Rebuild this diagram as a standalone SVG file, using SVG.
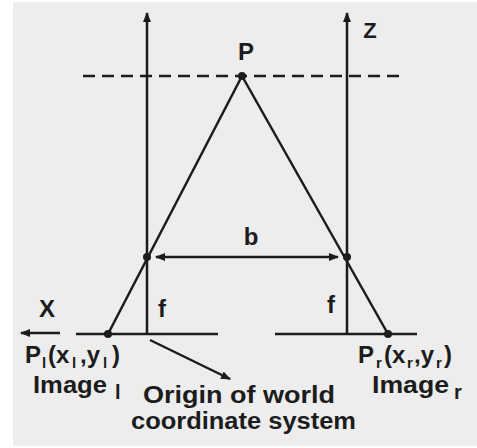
<svg xmlns="http://www.w3.org/2000/svg" width="477" height="448" viewBox="0 0 477 448">
<defs>
<style>
.ln{stroke:#1c1c1c;stroke-width:2.5;fill:none}
.t{font-family:"Liberation Sans",Arial,sans-serif;font-weight:bold;fill:#1c1c1c}
.m{font-size:24px}
.s{font-size:15px}
.o{font-size:23px}
</style>
<marker id="ah" viewBox="0 0 10 10" refX="9" refY="5" markerWidth="4" markerHeight="4" orient="auto-start-reverse" markerUnits="strokeWidth">
<path d="M0,1 L10,5 L0,9 Z" fill="#1c1c1c"/>
</marker>
</defs>
<rect x="0" y="0" width="477" height="448" fill="#ffffff"/>
<rect x="13" y="2" width="464" height="444" fill="#ededed"/>
<g id="connectors">
<line class="ln" x1="83" y1="76" x2="405" y2="76" stroke-dasharray="12,7" stroke-width="3"/>
<line class="ln" x1="147" y1="334" x2="147" y2="13" marker-end="url(#ah)"/>
<line class="ln" x1="347" y1="334" x2="347" y2="13" marker-end="url(#ah)"/>
<line class="ln" x1="242" y1="76" x2="108" y2="334"/>
<line class="ln" x1="242" y1="76" x2="388" y2="334"/>
<line class="ln" x1="156" y1="257" x2="338" y2="257" marker-start="url(#ah)" marker-end="url(#ah)"/>
<line class="ln" x1="76" y1="334" x2="218" y2="334"/>
<line class="ln" x1="275" y1="334" x2="417" y2="334"/>
<line class="ln" x1="60" y1="333" x2="21" y2="333" marker-end="url(#ah)"/>
<line class="ln" x1="150" y1="340" x2="230" y2="379" stroke-width="2" marker-end="url(#ah)"/>
</g>
<g id="P">
<circle cx="242" cy="76" r="4" fill="#1c1c1c"/>
<text class="t m" x="246" y="60" text-anchor="middle">P</text>
</g>
<g id="Z"><text class="t" style="font-size:22px" x="370" y="38" text-anchor="middle">Z</text></g>
<g id="X"><text class="t m" x="47" y="317" text-anchor="middle">X</text></g>
<g id="b"><text class="t m" x="251" y="245" text-anchor="middle">b</text></g>
<g id="dots">
<circle cx="147" cy="257" r="4" fill="#1c1c1c"/>
<circle cx="347" cy="257" r="4" fill="#1c1c1c"/>
<circle cx="108" cy="334" r="4" fill="#1c1c1c"/>
<circle cx="388" cy="334" r="4" fill="#1c1c1c"/>
</g>
<g id="f-left"><text class="t m" x="162" y="317" text-anchor="middle">f</text></g>
<g id="f-right"><text class="t m" x="331" y="313" text-anchor="middle">f</text></g>
<g id="Pl">
<text class="t"><tspan class="m" x="25" y="363">P</tspan><tspan class="s" x="42" y="368">l</tspan><tspan class="m" x="48" y="363">(x</tspan><tspan class="s" x="72" y="368">l</tspan><tspan class="m" x="80" y="363">,y</tspan><tspan class="s" x="103" y="368">l</tspan><tspan class="m" x="112" y="363">)</tspan></text>
</g>
<g id="Imagel">
<text class="t"><tspan class="m" x="33" y="393" textLength="74" lengthAdjust="spacingAndGlyphs">Image</tspan><tspan style="font-size:20px" x="115" y="399">l</tspan></text>
</g>
<g id="Pr">
<text class="t"><tspan class="m" x="358" y="363">P</tspan><tspan class="s" x="376" y="368">r</tspan><tspan class="m" x="384" y="363">(x</tspan><tspan class="s" x="407" y="368">r</tspan><tspan class="m" x="414" y="363">,y</tspan><tspan class="s" x="436" y="368">r</tspan><tspan class="m" x="444" y="363">)</tspan></text>
</g>
<g id="Imager">
<text class="t"><tspan class="m" x="372" y="393" textLength="77" lengthAdjust="spacingAndGlyphs">Image</tspan><tspan style="font-size:20px" x="454" y="399">r</tspan></text>
</g>
<g id="origin">
<text class="t o" x="143" y="403" textLength="192" lengthAdjust="spacingAndGlyphs">Origin of world</text>
<text class="t o" x="131" y="429" textLength="225" lengthAdjust="spacingAndGlyphs">coordinate system</text>
</g>
</svg>
